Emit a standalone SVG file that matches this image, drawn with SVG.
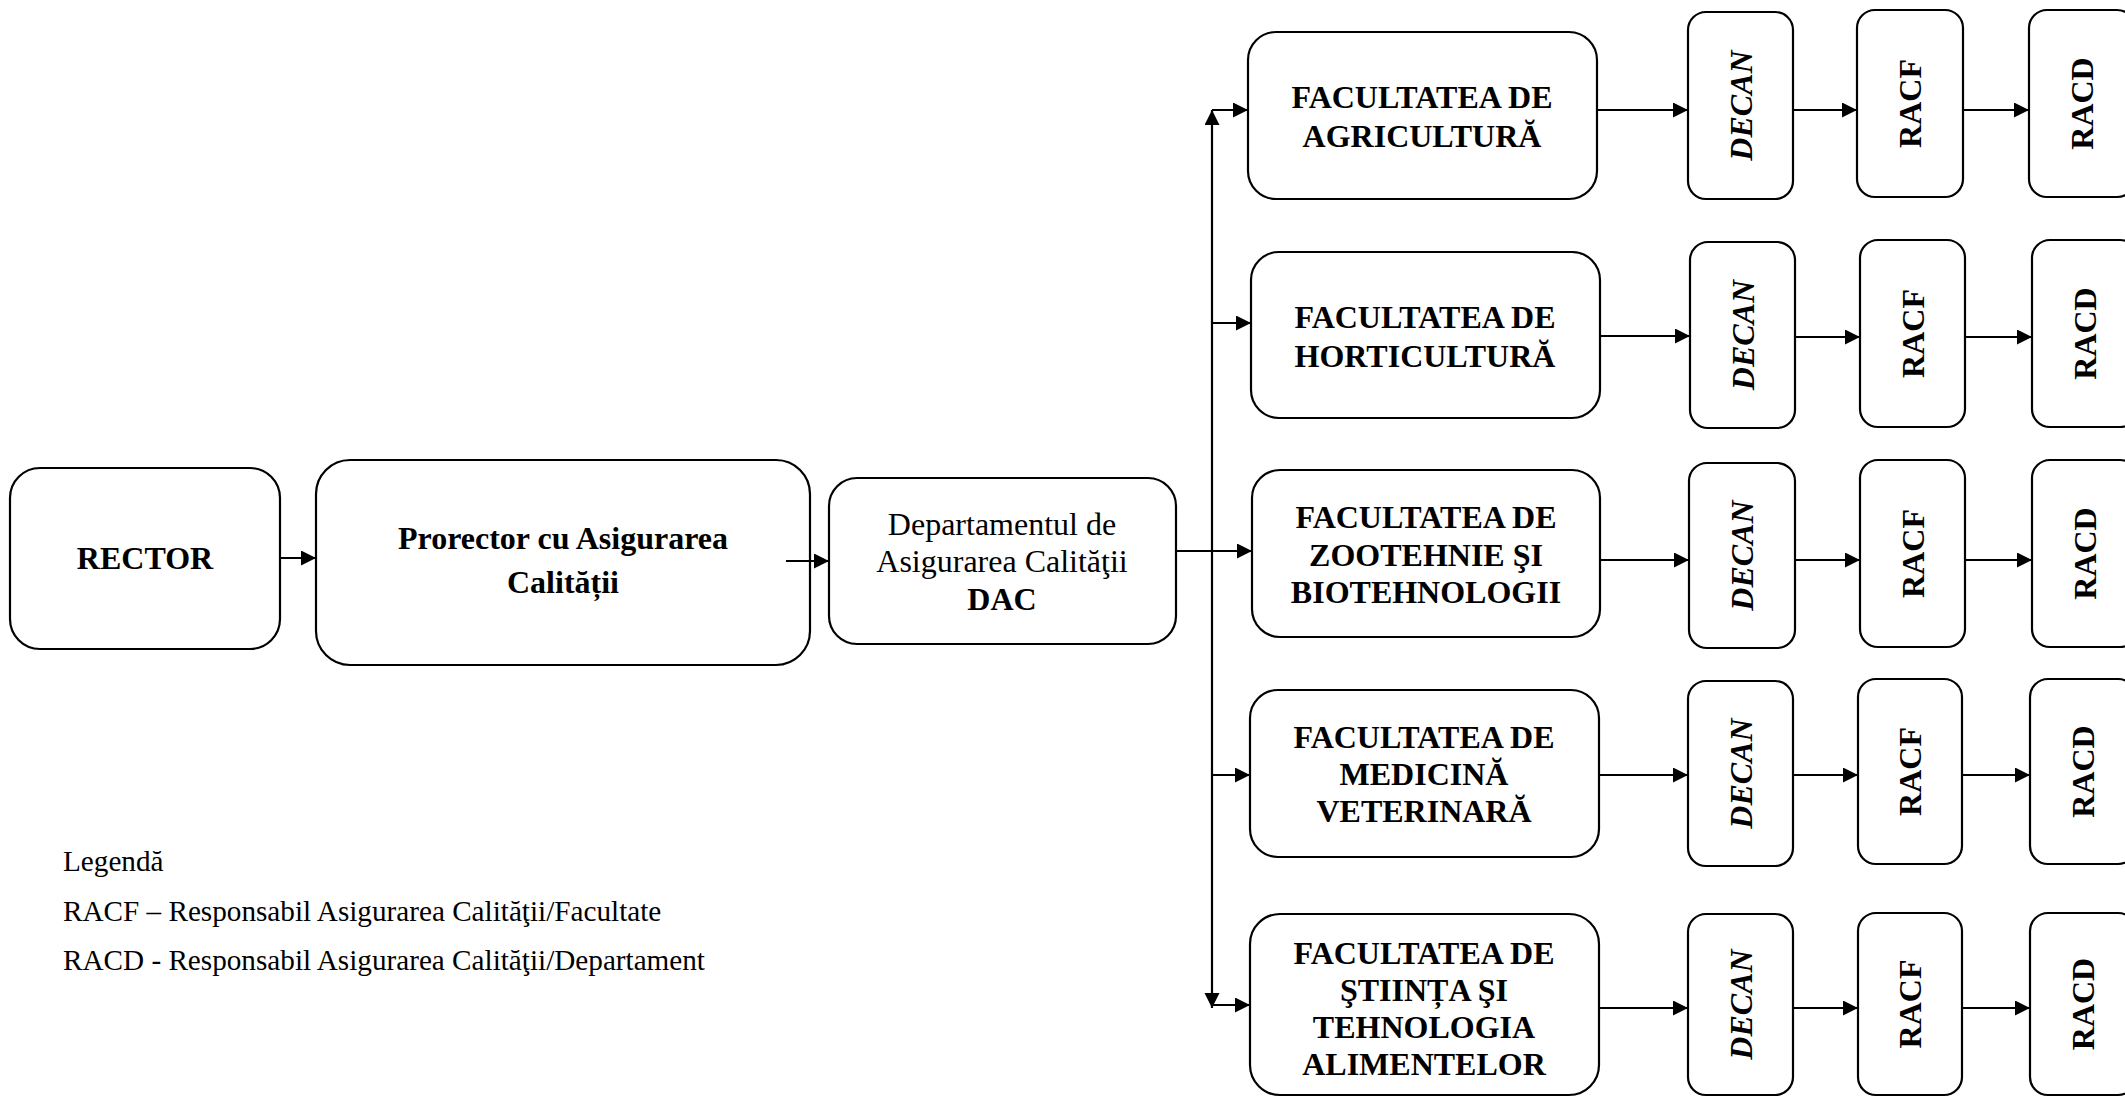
<svg xmlns="http://www.w3.org/2000/svg" width="2125" height="1097" viewBox="0 0 2125 1097">
<style>
.box{fill:#fff;stroke:#000;stroke-width:2.2}
.t{font-family:"Liberation Serif","Times New Roman",serif;font-size:32px;fill:#000;text-anchor:middle}
.b{font-weight:bold}
.bi{font-weight:bold;font-style:italic}
.leg{font-family:"Liberation Serif","Times New Roman",serif;font-size:29.2px;fill:#000}
.c{fill:none;stroke:#000;stroke-width:2.2}
</style>
<defs>
<marker id="ah" markerUnits="userSpaceOnUse" markerWidth="16" markerHeight="16" refX="15" refY="7.5" orient="auto-start-reverse">
<path d="M0,0 L15,7.5 L0,15 z" fill="#000"/>
</marker>
</defs>
<rect width="2125" height="1097" fill="#fff"/>

<g id="rector">
<rect class="box" x="10" y="468" width="270" height="181" rx="30"/>
<text class="t b" x="145" y="569">RECTOR</text>
</g>
<g id="prorector">
<rect class="box" x="316" y="460" width="494" height="205" rx="34"/>
<text class="t b" x="563" y="549">Prorector cu Asigurarea</text>
<text class="t b" x="563" y="593">Calității</text>
</g>
<g id="dac">
<rect class="box" x="829" y="478" width="347" height="166" rx="28"/>
<text class="t" x="1002" y="535">Departamentul de</text>
<text class="t" x="1002" y="572">Asigurarea Calităţii</text>
<text class="t b" x="1002" y="610">DAC</text>
</g>

<g id="fac-agricultura">
<rect class="box" x="1248" y="32" width="349" height="167" rx="28"/>
<text class="t b" x="1422" y="108">FACULTATEA DE</text>
<text class="t b" x="1422" y="147">AGRICULTURĂ</text>
</g>
<g id="fac-horticultura">
<rect class="box" x="1251" y="252" width="349" height="166" rx="28"/>
<text class="t b" x="1425" y="328">FACULTATEA DE</text>
<text class="t b" x="1425" y="367">HORTICULTURĂ</text>
</g>
<g id="fac-zootehnie">
<rect class="box" x="1252" y="470" width="348" height="167" rx="28"/>
<text class="t b" x="1426" y="528">FACULTATEA DE</text>
<text class="t b" x="1426" y="566">ZOOTEHNIE ŞI</text>
<text class="t b" x="1426" y="603">BIOTEHNOLOGII</text>
</g>
<g id="fac-medicina">
<rect class="box" x="1250" y="690" width="349" height="167" rx="28"/>
<text class="t b" x="1424" y="748">FACULTATEA DE</text>
<text class="t b" x="1424" y="785">MEDICINĂ</text>
<text class="t b" x="1424" y="822">VETERINARĂ</text>
</g>
<g id="fac-stiinta">
<rect class="box" x="1250" y="914" width="349" height="181" rx="30"/>
<text class="t b" x="1424" y="964">FACULTATEA DE</text>
<text class="t b" x="1424" y="1001">ŞTIINȚA ŞI</text>
<text class="t b" x="1424" y="1038">TEHNOLOGIA</text>
<text class="t b" x="1424" y="1075">ALIMENTELOR</text>
</g>

<g id="decan-1"><rect class="box" x="1688" y="12" width="105" height="187" rx="18"/><text class="t bi" transform="translate(1740.5,105.5) rotate(-90)" x="0" y="11">DECAN</text></g>
<g id="racf-1"><rect class="box" x="1857" y="10" width="106" height="187" rx="18"/><text class="t b" transform="translate(1910,103.5) rotate(-90)" x="0" y="11">RACF</text></g>
<g id="racd-1"><rect class="box" x="2029" y="10" width="106" height="187" rx="18"/><text class="t b" transform="translate(2082,103.5) rotate(-90)" x="0" y="11">RACD</text></g>

<g id="decan-2"><rect class="box" x="1690" y="242" width="105" height="186" rx="18"/><text class="t bi" transform="translate(1742.5,335) rotate(-90)" x="0" y="11">DECAN</text></g>
<g id="racf-2"><rect class="box" x="1860" y="240" width="105" height="187" rx="18"/><text class="t b" transform="translate(1912.5,333.5) rotate(-90)" x="0" y="11">RACF</text></g>
<g id="racd-2"><rect class="box" x="2032" y="240" width="106" height="187" rx="18"/><text class="t b" transform="translate(2085,333.5) rotate(-90)" x="0" y="11">RACD</text></g>

<g id="decan-3"><rect class="box" x="1689" y="463" width="106" height="185" rx="18"/><text class="t bi" transform="translate(1742,555.5) rotate(-90)" x="0" y="11">DECAN</text></g>
<g id="racf-3"><rect class="box" x="1860" y="460" width="105" height="187" rx="18"/><text class="t b" transform="translate(1912.5,553.5) rotate(-90)" x="0" y="11">RACF</text></g>
<g id="racd-3"><rect class="box" x="2032" y="460" width="106" height="187" rx="18"/><text class="t b" transform="translate(2085,553.5) rotate(-90)" x="0" y="11">RACD</text></g>

<g id="decan-4"><rect class="box" x="1688" y="681" width="105" height="185" rx="18"/><text class="t bi" transform="translate(1740.5,773.5) rotate(-90)" x="0" y="11">DECAN</text></g>
<g id="racf-4"><rect class="box" x="1858" y="679" width="104" height="185" rx="18"/><text class="t b" transform="translate(1910,771.5) rotate(-90)" x="0" y="11">RACF</text></g>
<g id="racd-4"><rect class="box" x="2030" y="679" width="106" height="185" rx="18"/><text class="t b" transform="translate(2083,771.5) rotate(-90)" x="0" y="11">RACD</text></g>

<g id="decan-5"><rect class="box" x="1688" y="914" width="105" height="181" rx="18"/><text class="t bi" transform="translate(1740.5,1004.5) rotate(-90)" x="0" y="11">DECAN</text></g>
<g id="racf-5"><rect class="box" x="1858" y="913" width="104" height="182" rx="18"/><text class="t b" transform="translate(1910,1004) rotate(-90)" x="0" y="11">RACF</text></g>
<g id="racd-5"><rect class="box" x="2030" y="913" width="106" height="182" rx="18"/><text class="t b" transform="translate(2083,1004) rotate(-90)" x="0" y="11">RACD</text></g>

<g id="legend">
<text class="leg" x="63" y="871">Legendă</text>
<text class="leg" x="63" y="921">RACF – Responsabil Asigurarea Calităţii/Facultate</text>
<text class="leg" x="63" y="970">RACD - Responsabil Asigurarea Calităţii/Departament</text>
</g>

<g id="connectors">
<path class="c" d="M280,558 H316" marker-end="url(#ah)"/>
<path class="c" d="M786,561 H829" marker-end="url(#ah)"/>
<path class="c" d="M1176,551 H1212"/>
<path class="c" d="M1212,110 V1008" marker-start="url(#ah)" marker-end="url(#ah)"/>
<path class="c" d="M1212,110 H1248" marker-end="url(#ah)"/>
<path class="c" d="M1212,323 H1251" marker-end="url(#ah)"/>
<path class="c" d="M1212,551 H1252" marker-end="url(#ah)"/>
<path class="c" d="M1212,775 H1250" marker-end="url(#ah)"/>
<path class="c" d="M1212,1005 H1250" marker-end="url(#ah)"/>
<path class="c" d="M1597,110 H1688" marker-end="url(#ah)"/>
<path class="c" d="M1793,110 H1857" marker-end="url(#ah)"/>
<path class="c" d="M1963,110 H2029" marker-end="url(#ah)"/>
<path class="c" d="M1600,336 H1690" marker-end="url(#ah)"/>
<path class="c" d="M1795,337 H1860" marker-end="url(#ah)"/>
<path class="c" d="M1965,337 H2032" marker-end="url(#ah)"/>
<path class="c" d="M1600,560 H1689" marker-end="url(#ah)"/>
<path class="c" d="M1795,560 H1860" marker-end="url(#ah)"/>
<path class="c" d="M1965,560 H2032" marker-end="url(#ah)"/>
<path class="c" d="M1599,775 H1688" marker-end="url(#ah)"/>
<path class="c" d="M1793,775 H1858" marker-end="url(#ah)"/>
<path class="c" d="M1962,775 H2030" marker-end="url(#ah)"/>
<path class="c" d="M1599,1008 H1688" marker-end="url(#ah)"/>
<path class="c" d="M1793,1008 H1858" marker-end="url(#ah)"/>
<path class="c" d="M1962,1008 H2030" marker-end="url(#ah)"/>
</g>
</svg>
